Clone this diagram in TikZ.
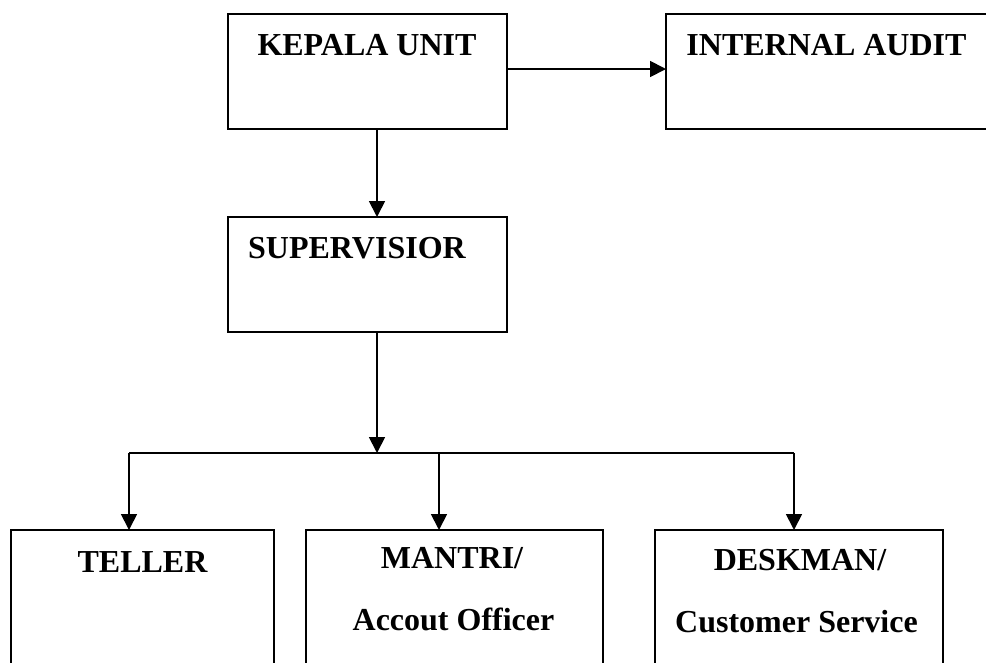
\documentclass[tikz,border=0pt]{standalone}
\usepackage{fontspec}
\setmainfont{Liberation Serif}
\usetikzlibrary{arrows.meta}
\begin{document}
\begin{tikzpicture}[x=1pt,y=-1pt,
  box/.style={draw,line width=1.8pt,rectangle,inner sep=0pt,outer sep=0pt},
  lbl/.style={font=\fontsize{32}{36}\selectfont\bfseries,inner sep=0pt},
  conn/.style={line width=1.8pt},
  arr/.style={conn,-{Triangle[length=16pt,width=16pt]}}]
\useasboundingbox (0,0) rectangle (986,662);
\begin{scope}
\clip (0,0) rectangle (986,662);
\node[box,minimum width=279pt,minimum height=115pt] (kepala) at (367.5,71.5) {};
\node[box,minimum width=322pt,minimum height=115pt] (internal) at (827,71.5) {};
\node[box,minimum width=279pt,minimum height=115pt] (super) at (367.5,274.5) {};
\node[box,minimum width=263pt,minimum height=170pt] (teller) at (142.3,615) {};
\node[box,minimum width=297pt,minimum height=170pt] (mantri) at (454.5,615) {};
\node[box,minimum width=288pt,minimum height=170pt] (deskman) at (799,615) {};
\end{scope}
\node[lbl,anchor=base] (tkepala) at (367,55) {KEPALA UNIT};
\node[lbl,anchor=base] (tinternal) at (826.5,55) {INTERNAL AUDIT};
\node[lbl,anchor=base west] (tsuper) at (248,258) {SUPERVISIOR};
\node[lbl,anchor=base] (tteller) at (142.5,572) {TELLER};
\node[lbl,anchor=base] (tmantri1) at (452,568) {MANTRI/};
\node[lbl,anchor=base] (tmantri2) at (453.5,630) {Accout Officer};
\node[lbl,anchor=base] (tdesk1) at (800,570) {DESKMAN/};
\node[lbl,anchor=base] (tdesk2) at (796.5,632) {Customer Service};
\coordinate (j) at (377,453);
\coordinate (bl) at (129,453);
\coordinate (bm) at (439,453);
\coordinate (br) at (794,453);
\draw[arr] (kepala.east |- 0,69) -- (internal.west |- 0,69);
\draw[arr] (kepala.south -| j) -- (super.north -| j);
\draw[arr] (super.south -| j) -- (j);
\draw[conn] (bl) -- (br);
\draw[arr] (bl) -- (teller.north -| bl);
\draw[arr] (bm) -- (mantri.north -| bm);
\draw[arr] (br) -- (deskman.north -| br);
\end{tikzpicture}
\end{document}
